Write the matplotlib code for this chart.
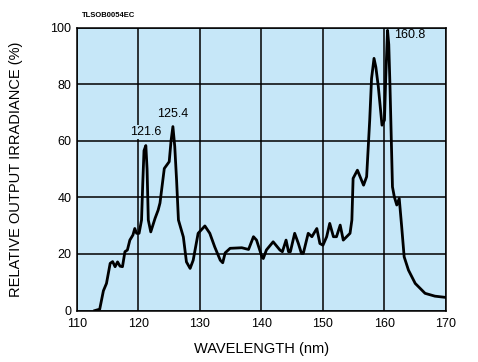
import matplotlib
matplotlib.use("Agg")
import matplotlib.pyplot as plt

plt.rcParams['font.family'] = ['Liberation Sans', 'DejaVu Sans']

# wavelength (nm) and relative irradiance (%)
wavelength = [112.9, 113.7, 114.3, 114.8, 115.4, 115.8, 116.2, 116.6, 117.0, 117.4,
              117.8, 118.2, 118.6, 119.1, 119.4, 119.7, 120.1, 120.5, 120.7, 120.9,
              121.2, 121.4, 121.6, 122.0, 122.7, 123.2, 123.5, 124.2, 125.0, 125.3,
              125.6, 125.9, 126.2, 126.5, 127.3, 127.8, 128.4, 128.9, 129.7, 130.8,
              131.6, 132.4, 133.3, 133.7, 134.1, 134.9, 136.8, 137.9, 138.7, 139.2,
              140.1, 140.3, 140.8, 141.9, 143.0, 143.4, 144.0, 144.4, 144.7, 145.4,
              146.0, 146.5, 146.8, 147.6, 148.2, 149.0, 149.5, 150.0, 150.6, 151.1,
              151.7, 152.2, 152.8, 153.3, 154.4, 154.7, 154.9, 155.6, 156.6, 157.1,
              157.6, 157.9, 158.3, 158.6, 159.0, 159.6, 160.0, 160.2, 160.5, 160.7,
              160.9, 161.3, 161.6, 162.0, 162.4, 162.8, 163.2, 163.9, 165.0, 166.6,
              168.2, 169.8]
irradiance = [0.0, 0.5, 7.0, 9.6, 16.7, 17.3, 15.5, 17.2, 15.7, 15.5,
              20.8, 21.4, 24.9, 26.7, 29.0, 27.3, 27.3, 32.0, 45.0, 56.5,
              58.3, 50.0, 32.0, 27.8, 32.6, 35.5, 38.0, 50.2, 52.6, 60.0,
              65.0, 58.0, 46.0, 32.0, 26.0, 17.2, 14.9, 17.8, 27.3, 29.9,
              27.3, 22.5, 17.8, 16.9, 20.4, 22.0, 22.2, 21.6, 26.1, 24.9,
              18.8, 18.4, 21.4, 24.3, 21.4, 20.8, 24.9, 20.8, 20.8, 27.3,
              23.7, 20.2, 20.2, 27.3, 26.1, 29.0, 23.7, 23.1, 26.1, 30.8,
              26.1, 26.1, 30.2, 24.9, 27.3, 32.0, 46.7, 49.6, 44.3, 47.3,
              67.3, 82.0, 89.1, 86.0, 79.1, 65.5, 67.3, 82.0, 99.0, 94.0,
              79.0, 43.7, 40.2, 37.3, 39.6, 29.6, 19.0, 14.3, 9.6, 6.1,
              5.1, 4.7]

fig = plt.figure(figsize=(4.78, 3.62), dpi=100)
ax = fig.add_axes([0.161, 0.142, 0.772, 0.782])
ax.set_facecolor('#c6e7f8')

ax.set_xlim(110, 170)
ax.set_ylim(0, 100)
ax.set_xticks(range(110, 171, 10))
ax.set_yticks(range(0, 101, 20))
ax.grid(True, color='black', linewidth=1.1)
ax.set_axisbelow(True)
ax.tick_params(length=0, labelsize=9)
ax.tick_params(axis='x', pad=5)
ax.tick_params(axis='y', pad=4)
for s in ax.spines.values():
    s.set_linewidth(1.1)

ax.plot(wavelength, irradiance, color='black', linewidth=2, solid_joinstyle='round')

ax.text(121.2, 61, '121.6', ha='center', va='bottom', fontsize=9,
        bbox=dict(facecolor='#c6e7f8', edgecolor='none', pad=1))
ax.text(125.6, 67.5, '125.4', ha='center', va='bottom', fontsize=9)
ax.text(161.6, 97.5, '160.8', ha='left', va='center', fontsize=9)

ax.set_xlabel('WAVELENGTH (nm)', fontsize=10.5, labelpad=9)
ax.set_ylabel('RELATIVE OUTPUT IRRADIANCE (%)', fontsize=10.5, labelpad=20)
fig.text(0.172, 0.948, 'TLSOB0054EC', fontsize=5.5, fontweight='bold', ha='left', va='bottom')

fig.savefig('out.png', dpi=100)
